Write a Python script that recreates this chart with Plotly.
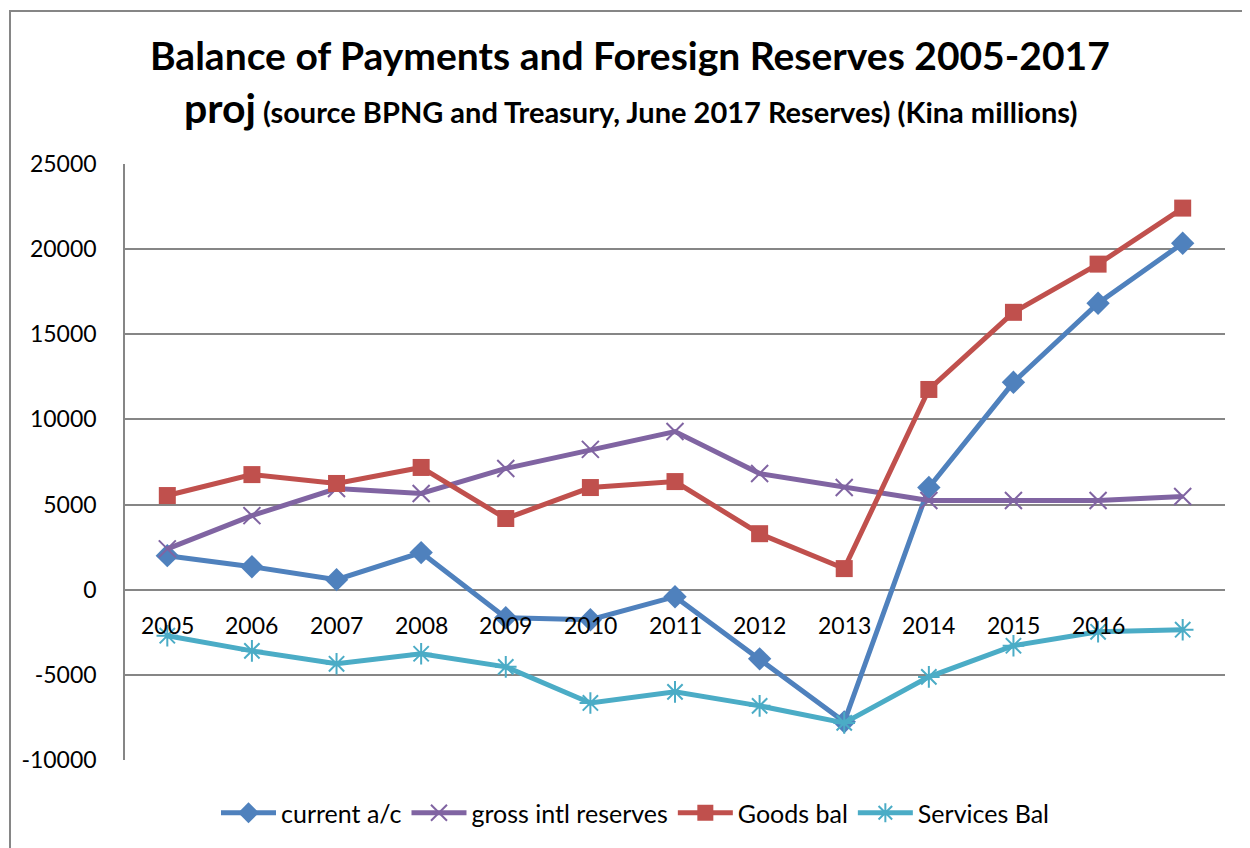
import plotly.graph_objects as go

years = ["2005", "2006", "2007", "2008", "2009", "2010", "2011", "2012", "2013", "2014", "2015", "2016", "2017"]
year_labels = ["2005", "2006", "2007", "2008", "2009", "2010", "2011", "2012", "2013", "2014", "2015", "2016", ""]

current_ac = [2000, 1350, 590, 2180, -1650, -1760, -410, -4060, -7760, 6000, 12180, 16820, 20350]
gross_reserves = [2400, 4350, 5940, 5650, 7120, 8240, 9290, 6820, 6000, 5240, 5240, 5240, 5470]
goods_bal = [5530, 6760, 6240, 7180, 4180, 6000, 6350, 3290, 1240, 11760, 16290, 19120, 22410]
services_bal = [-2700, -3590, -4350, -3760, -4530, -6650, -6000, -6820, -7820, -5120, -3290, -2470, -2350]

y_ticks = [-10000, -5000, 0, 5000, 10000, 15000, 20000, 25000]

FONT = "Lato"

fig = go.Figure()
fig.add_trace(go.Scatter(
    x=years, y=current_ac, name="current a/c", mode="lines+markers",
    line=dict(color="#4F81BD", width=5),
    marker=dict(symbol="diamond", size=18, color="#4F81BD")))
fig.add_trace(go.Scatter(
    x=years, y=gross_reserves, name="gross intl reserves", mode="lines+markers",
    line=dict(color="#8064A2", width=5),
    marker=dict(symbol="x-thin-open", size=17, color="#8064A2", line=dict(width=2, color="#8064A2"))))
fig.add_trace(go.Scatter(
    x=years, y=goods_bal, name="Goods bal", mode="lines+markers",
    line=dict(color="#C0504D", width=5),
    marker=dict(symbol="square", size=17, color="#C0504D")))
fig.add_trace(go.Scatter(
    x=years, y=services_bal, name="Services Bal", mode="lines+markers",
    line=dict(color="#4BACC6", width=5),
    marker=dict(symbol="asterisk-open", size=18, color="#4BACC6", line=dict(width=2, color="#4BACC6"))))

annotations = []
for i, lab in enumerate(year_labels):
    annotations.append(dict(x=i, y=0, xref="x", yref="y", text=lab, showarrow=False,
                            yanchor="top", yshift=-19, font=dict(family=FONT, size=23, color="#000000")))

annotations.append(dict(x=(630 - 125) / 1100, y=(760 - 55) / 596, xref="paper", yref="paper", showarrow=False,
                        xanchor="center", yanchor="middle",
                        text="<b>Balance of Payments and Foresign Reserves 2005-2017</b>",
                        font=dict(family=FONT, size=39, color="#000000")))
annotations.append(dict(x=(630 - 125) / 1100, y=(760 - 107) / 596, xref="paper", yref="paper", showarrow=False,
                        xanchor="center", yanchor="middle",
                        text="<b><span style='font-size:41px'>proj</span> (source BPNG and Treasury, June 2017 Reserves) (Kina millions)</b>",
                        font=dict(family=FONT, size=29, color="#000000")))

fig.update_layout(
    width=1250, height=848,
    margin=dict(l=117, r=33, t=156, b=96),
    paper_bgcolor="white", plot_bgcolor="white",
    font=dict(family=FONT, size=20, color="#000000"),
    showlegend=True,
    legend=dict(orientation="h", x=(635 - 125) / 1100, xanchor="center", y=(760 - 813) / 596, yanchor="middle",
                font=dict(family=FONT, size=25), itemwidth=55, traceorder="normal"),
    annotations=annotations,
    shapes=[dict(type="rect", xref="paper", yref="paper",
                 x0=(10 - 125) / 1100, x1=(1270 - 125) / 1100,
                 y0=(760 - 870) / 596, y1=(760 - 11) / 596,
                 line=dict(color="#868686", width=2), layer="below")],
)
fig.update_xaxes(type="category", range=[-0.5, 12.5], showticklabels=False, showgrid=False,
                 zeroline=False, showline=False, ticks="")
fig.update_yaxes(range=[-10000, 25000], tickvals=y_ticks, ticktext=[str(v) for v in y_ticks],
                 showgrid=True, gridcolor="#868686", gridwidth=1.5, zeroline=False,
                 showline=True, linecolor="#868686", linewidth=1.5, ticks="",
                 ticklabelstandoff=22, tickfont=dict(family=FONT, size=23))

fig.write_html("out.html")
